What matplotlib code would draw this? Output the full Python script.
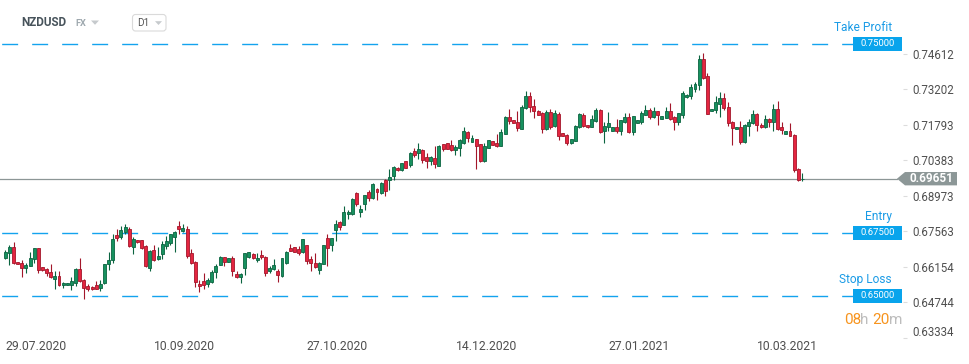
import matplotlib
matplotlib.use("Agg")
import matplotlib.pyplot as plt
import matplotlib.transforms as mtransforms
from matplotlib.patches import Polygon, Rectangle, FancyBboxPatch
import numpy as np

plt.rcParams['font.family'] = ['Roboto', 'DejaVu Sans']
plt.rcParams['lines.scale_dashes'] = False

# daily NZDUSD candles
opens = [
    .6652, .6670, .6693, .6634, .6630, .6610, .6618, .6646, .6689, .6614,
    .6608, .6595, .6568, .6579, .6542, .6543, .6542, .6551, .6606, .6564,
    .6539, .6537, .6545, .6531, .6550, .6625, .6641, .6742, .6735, .6755,
    .6766, .6693, .6721, .6721, .6697, .6610, .6681, .6645, .6668, .6700,
    .6709, .6733, .6776, .6756, .6764, .6670, .6634, .6549, .6558, .6547,
    .6554, .6595, .6624, .6654, .6634, .6650, .6588, .6574, .6609, .6653,
    .6666, .6641, .6663, .6655, .6599, .6608, .6600, .6578, .6629, .6691,
    .6693, .6688, .6675, .6701, .6647, .6631, .6604, .6628, .6729, .6704,
    .6763, .6795, .6783, .6824, .6826, .6909, .6834, .6866, .6912, .6889,
    .6926, .6909, .6959, .6961, .6975, .7009, .7000, .7034, .7018, .7074,
    .7068, .7078, .7050, .7034, .7046, .7016, .7101, .7105, .7100, .7079,
    .7087, .7105, .7149, .7112, .7121, .7101, .7035, .7087, .7113, .7105,
    .7095, .7143, .7208, .7196, .7191, .7164, .7245, .7295, .7255, .7234,
    .7225, .7161, .7228, .7174, .7220, .7145, .7139, .7106, .7114, .7171,
    .7218, .7179, .7171, .7195, .7239, .7154, .7171, .7154, .7171, .7154,
    .7188, .7208, .7149, .7185, .7189, .7217, .7239, .7209, .7235, .7201,
    .7207, .7232, .7208, .7189, .7216, .7288, .7293, .7322, .7336, .7441,
    .7374, .7233, .7236, .7263, .7286, .7251, .7191, .7162, .7171, .7110,
    .7174, .7186, .7222, .7180, .7171, .7203, .7189, .7242, .7171, .7142,
    .7155, .7139, .7005, .6962,
]
highs = [
    .6683, .6703, .6714, .6634, .6643, .6629, .6675, .6691, .6691, .6614,
    .6610, .6627, .6600, .6600, .6555, .6551, .6576, .6610, .6651, .6568,
    .6549, .6539, .6561, .6562, .6627, .6676, .6746, .6766, .6779, .6785,
    .6773, .6735, .6722, .6722, .6704, .6681, .6703, .6695, .6720, .6737,
    .6746, .6756, .6797, .6787, .6779, .6687, .6638, .6563, .6592, .6571,
    .6605, .6626, .6659, .6654, .6651, .6659, .6600, .6592, .6672, .6675,
    .6669, .6671, .6683, .6658, .6620, .6646, .6606, .6652, .6677, .6706,
    .6693, .6697, .6726, .6704, .6660, .6671, .6634, .6704, .6746, .6731,
    .6800, .6799, .6855, .6839, .6887, .6914, .6862, .6901, .6920, .6949,
    .6928, .6953, .6962, .7003, .7016, .7012, .7028, .7037, .7070, .7085,
    .7105, .7082, .7066, .7055, .7093, .7097, .7104, .7105, .7120, .7097,
    .7124, .7172, .7154, .7137, .7124, .7104, .7105, .7117, .7113, .7141,
    .7163, .7212, .7240, .7196, .7232, .7259, .7314, .7309, .7283, .7236,
    .7229, .7238, .7240, .7237, .7228, .7145, .7141, .7124, .7178, .7225,
    .7225, .7179, .7216, .7247, .7242, .7191, .7228, .7172, .7202, .7196,
    .7224, .7224, .7213, .7197, .7232, .7257, .7247, .7251, .7235, .7214,
    .7251, .7267, .7213, .7224, .7314, .7299, .7342, .7350, .7457, .7464,
    .7383, .7243, .7292, .7307, .7303, .7271, .7193, .7172, .7192, .7182,
    .7200, .7239, .7226, .7184, .7216, .7204, .7263, .7272, .7188, .7155,
    .7184, .7141, .7006, .6987,
]
lows = [
    .6645, .6621, .6625, .6625, .6577, .6591, .6617, .6629, .6591, .6601,
    .6581, .6573, .6526, .6539, .6531, .6542, .6525, .6539, .6555, .6489,
    .6521, .6525, .6526, .6521, .6547, .6602, .6629, .6718, .6726, .6746,
    .6696, .6668, .6712, .6688, .6613, .6601, .6639, .6642, .6645, .6687,
    .6703, .6676, .6746, .6755, .6652, .6625, .6537, .6514, .6529, .6534,
    .6550, .6573, .6621, .6617, .6633, .6581, .6573, .6550, .6585, .6651,
    .6646, .6634, .6647, .6578, .6591, .6605, .6554, .6575, .6627, .6677,
    .6675, .6663, .6671, .6628, .6599, .6610, .6588, .6625, .6617, .6680,
    .6720, .6762, .6781, .6806, .6822, .6858, .6813, .6841, .6876, .6885,
    .6881, .6904, .6896, .6920, .6961, .6997, .6997, .7007, .7010, .7050,
    .7045, .7026, .7008, .7021, .7008, .7016, .7074, .7082, .7074, .7059,
    .7055, .7103, .7111, .7111, .7003, .7031, .7033, .7086, .7097, .7092,
    .7095, .7142, .7182, .7184, .7153, .7162, .7241, .7229, .7204, .7216,
    .7145, .7157, .7164, .7171, .7118, .7133, .7097, .7101, .7113, .7168,
    .7170, .7168, .7170, .7191, .7145, .7106, .7153, .7153, .7147, .7138,
    .7184, .7145, .7137, .7184, .7182, .7216, .7200, .7205, .7178, .7200,
    .7204, .7196, .7158, .7178, .7204, .7287, .7282, .7307, .7316, .7359,
    .7220, .7233, .7226, .7209, .7237, .7175, .7097, .7162, .7104, .7107,
    .7133, .7183, .7154, .7168, .7167, .7170, .7154, .7160, .7141, .7141,
    .7133, .6991, .6955, .6956,
]
closes = [
    .6676, .6693, .6631, .6626, .6610, .6624, .6650, .6689, .6602, .6602,
    .6592, .6575, .6579, .6543, .6551, .6551, .6559, .6608, .6558, .6531,
    .6529, .6526, .6529, .6547, .6626, .6642, .6725, .6730, .6760, .6773,
    .6700, .6726, .6713, .6689, .6617, .6679, .6643, .6658, .6705, .6717,
    .6745, .6754, .6767, .6768, .6660, .6630, .6555, .6539, .6543, .6564,
    .6595, .6618, .6655, .6633, .6650, .6601, .6577, .6588, .6669, .6674,
    .6649, .6651, .6653, .6593, .6612, .6621, .6584, .6650, .6675, .6680,
    .6676, .6672, .6724, .6637, .6630, .6613, .6631, .6701, .6692, .6729,
    .6785, .6775, .6834, .6834, .6884, .6864, .6843, .6899, .6889, .6945,
    .6912, .6949, .6917, .6972, .7013, .7000, .7026, .7009, .7066, .7058,
    .7082, .7039, .7036, .7050, .7024, .7096, .7082, .7084, .7079, .7089,
    .7118, .7153, .7126, .7125, .7095, .7035, .7093, .7117, .7099, .7095,
    .7149, .7208, .7193, .7186, .7166, .7251, .7295, .7249, .7233, .7217,
    .7162, .7228, .7172, .7224, .7136, .7134, .7108, .7121, .7175, .7220,
    .7176, .7170, .7200, .7239, .7151, .7176, .7187, .7171, .7153, .7196,
    .7210, .7151, .7212, .7196, .7224, .7239, .7209, .7235, .7217, .7212,
    .7232, .7201, .7189, .7224, .7303, .7297, .7330, .7342, .7441, .7366,
    .7222, .7242, .7271, .7286, .7245, .7186, .7166, .7171, .7110, .7179,
    .7191, .7222, .7178, .7170, .7203, .7188, .7242, .7163, .7158, .7155,
    .7134, .7000, .6961, .6965,
]

date_idx = [0, 36, 73, 109, 146, 182]
date_labels = ['29.07.2020', '10.09.2020', '27.10.2020', '14.12.2020', '27.01.2021', '10.03.2021']
price_ticks = [0.74612, 0.73202, 0.71793, 0.70383, 0.68973, 0.67563, 0.66154, 0.64744, 0.63334]
level_values = [0.75, 0.675, 0.65]
level_names = ['Take Profit', 'Entry', 'Stop Loss']
last_price = 0.69651
countdown = ['08', 'h', '20', 'm']

W, H = 970, 364
fig = plt.figure(figsize=(W / 100, H / 100), dpi=100)
fig.patch.set_facecolor('white')
ax = fig.add_axes([0, 26 / H, 903 / W, 338 / H])
ax.set_facecolor('white')
for s in ax.spines.values():
    s.set_visible(False)

o = np.array(opens)
hi = np.array(highs)
lo = np.array(lows)
c = np.array(closes)
x = np.arange(len(o))
up = c >= o

face = np.where(up, '#17915f', '#e42540')
edge = np.where(up, '#0b6440', '#a3162a')
body_lo = np.minimum(o, c)
body_h = np.maximum(np.abs(c - o), 0.0003)

ax.vlines(x, lo, hi, colors=edge, linewidth=0.8, zorder=2)
ax.bar(x, body_h, bottom=body_lo, width=0.72, color=face, edgecolor=edge,
       linewidth=0.6, zorder=3)

ax.set_xlim(-5.3 / 4.13, (903 - 5.3) / 4.13)
ax.set_ylim(0.75 - 294 / 2533, 0.75 + 44 / 2533)

ytr = ax.get_yaxis_transform()

# current price line and label
ax.plot([0, 897 / 903], [last_price, last_price], transform=ytr, color='#8c9696',
        lw=0.9, zorder=1, clip_on=False)
hh = 6.7 / 2533
ax.add_patch(Polygon([(897 / 903, last_price), (905 / 903, last_price + hh),
                      (957 / 903, last_price + hh), (957 / 903, last_price - hh),
                      (905 / 903, last_price - hh)],
                     closed=True, transform=ytr, facecolor='#8c9797',
                     edgecolor='none', clip_on=False, zorder=5))
ax.text(931 / 903, last_price, f'{last_price:.5f}', transform=ytr, ha='center',
        va='center', color='white', fontsize=8.5, fontweight='bold', zorder=6,
        clip_on=False)

# trade levels
bh = 7 / 2533
for val, name in zip(level_values, level_names):
    ax.plot([0, 853 / 903], [val, val], transform=ytr, color='#14a3ee', lw=1.0,
            linestyle=(20.4, (11.5, 10.1)), zorder=1, clip_on=False)
    ax.add_patch(Rectangle((853 / 903, val - bh), 49 / 903, 2 * bh, transform=ytr,
                           facecolor='#09a4ec', edgecolor='none', clip_on=False,
                           zorder=5))
    ax.text(877.5 / 903, val, f'{val:.5f}', transform=ytr, ha='center', va='center',
            color='white', fontsize=6.8, zorder=6, clip_on=False)
    ax.text(892 / 903, val, name,
            transform=mtransforms.offset_copy(ytr, fig=fig, y=16.5, units='dots'),
            ha='right', va='center', color='#1a9be6', fontsize=8.6, clip_on=False)

# axes ticks
ax.yaxis.tick_right()
ax.set_yticks(price_ticks, [f'{v:.5f}' for v in price_ticks])
ax.tick_params(axis='y', right=True, length=3, width=0.8, color='#dcdcdc',
               labelsize=8.3, labelcolor='#4f4f4f', pad=3.5)
last_tick = ax.yaxis.get_major_ticks()[-1]
last_tick.label2.set_transform(last_tick.label2.get_transform() +
                               mtransforms.ScaledTranslation(0, 0.065, fig.dpi_scale_trans))

ax.set_xticks(date_idx, date_labels)
ax.tick_params(axis='x', length=0, pad=1.5, labelsize=8.7, labelcolor='#4f4f4f')
for lbl in ax.get_xticklabels():
    lbl.set_horizontalalignment('left')

# header widgets, in pixel coordinates from top left
pxt = mtransforms.Affine2D().scale(1, -1).translate(0, H)
fig.text(21, 23, 'NZDUSD', transform=pxt, fontsize=8.4, fontweight='bold',
         color='#47535b', va='center')
fig.text(75, 24, 'FX', transform=pxt, fontsize=6.6, fontweight='bold',
         color='#9ea8ae', va='center')
fig.add_artist(Polygon([(91, 20.5), (99, 20.5), (95, 24.8)], closed=True,
                       transform=pxt, facecolor='#c6cacd', edgecolor='none'))
fig.add_artist(FancyBboxPatch((132.5, 14.5), 33.5, 16.5,
                              boxstyle='round,pad=0,rounding_size=3',
                              transform=pxt, facecolor='white',
                              edgecolor='#dadada', linewidth=0.8))
fig.text(137.5, 23, 'D1', transform=pxt, fontsize=7.2, color='#555555', va='center')
fig.add_artist(Polygon([(155, 21.2), (162, 21.2), (158.5, 25)], closed=True,
                       transform=pxt, facecolor='#c6cacd', edgecolor='none'))

# candle countdown
cd_x = [844, 860, 872.7, 889]
cd_col = ['#f7941e', '#bdbdbd', '#f7941e', '#bdbdbd']
for xx, txt, col in zip(cd_x, countdown, cd_col):
    fig.text(xx, 319.5, txt, transform=pxt, fontsize=11, color=col, va='center')

fig.savefig('out.png', dpi=100)
